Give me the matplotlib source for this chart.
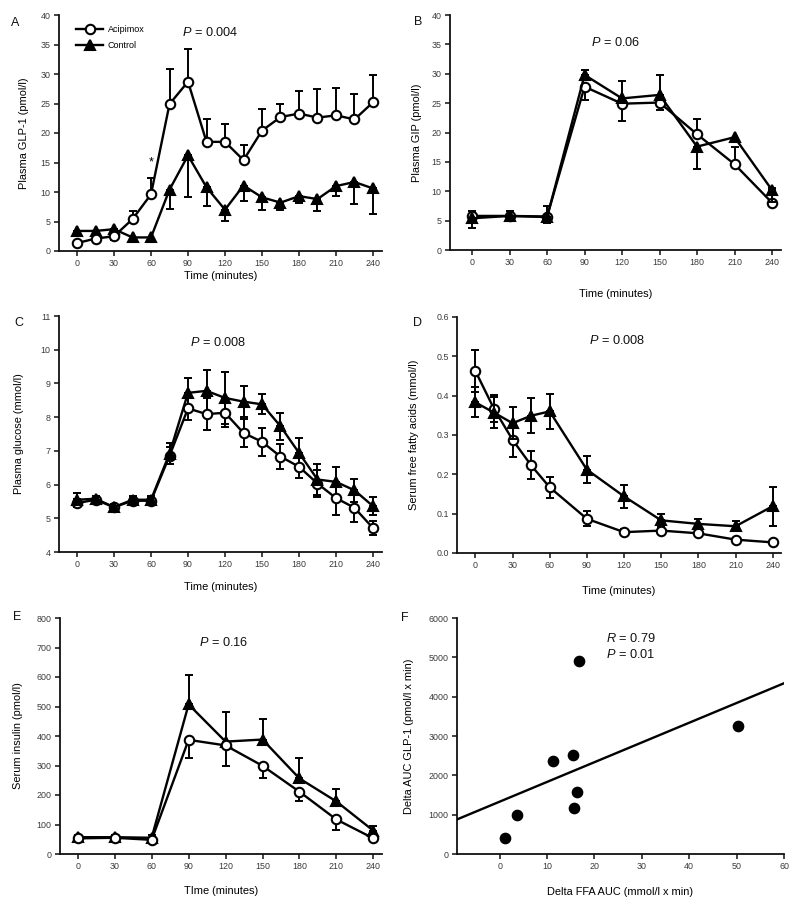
import numpy as np
import matplotlib
matplotlib.use("Agg")
import matplotlib.pyplot as plt
from matplotlib.ticker import FormatStrFormatter

plt.rcParams['font.family'] = ['Liberation Sans', 'DejaVu Sans']
plt.rcParams['mathtext.fontset'] = 'custom'
plt.rcParams['mathtext.rm'] = 'Liberation Sans'
plt.rcParams['mathtext.it'] = 'Liberation Sans:italic'

# ---------------- data ----------------
t15 = [0, 15, 30, 45, 60, 75, 90, 105, 120, 135, 150, 165, 180, 195, 210, 225, 240]
t30 = [0, 30, 60, 90, 120, 150, 180, 210, 240]
t_ffa = [0, 15, 30, 45, 60, 90, 120, 150, 180, 210, 240]
time_ticks = [0, 30, 60, 90, 120, 150, 180, 210, 240]

# A: GLP-1 (pmol/l)
glp_acip = [1.35, 2.1, 2.5, 5.4, 9.6, 24.9, 28.7, 18.5, 18.5, 15.4, 20.4, 22.7, 23.3, 22.6, 23.0, 22.3, 25.2]
glp_acip_lo = [0.3, 0.4, 0.6, 0, 0, 0, 0, 0, 0, 0, 0, 0, 0, 0, 0, 0, 0]
glp_acip_hi = [0.3, 0.4, 0.6, 1.4, 2.7, 5.9, 5.5, 3.9, 3.1, 2.6, 3.6, 2.2, 3.9, 4.8, 4.6, 4.3, 4.7]
glp_ctrl = [3.4, 3.4, 3.7, 2.3, 2.3, 10.4, 16.2, 10.8, 7.0, 11.1, 9.1, 8.2, 9.3, 8.8, 11.0, 11.7, 10.6]
glp_ctrl_lo = [0.3, 0.3, 0.4, 0, 0, 3.3, 7.1, 3.2, 1.9, 2.6, 2.2, 1.3, 1.2, 2.0, 1.7, 3.7, 4.4]
glp_ctrl_hi = [0, 0, 0, 0, 0, 0, 0, 0, 0, 0, 0, 0, 0, 0, 0, 0, 0]

# B: GIP (pmol/l)
gip_acip = [5.8, 5.8, 5.7, 27.8, 24.9, 25.1, 19.7, 14.6, 8.05]
gip_acip_lo = [0.9, 0.8, 1.05, 2.2, 2.9, 1.3, 0, 0, 0.5]
gip_acip_hi = [0.9, 0.8, 0, 0, 0, 0, 2.6, 3.0, 0.5]
gip_ctrl = [5.4, 5.8, 5.6, 29.8, 25.8, 26.4, 17.6, 19.2, 10.2]
gip_ctrl_lo = [1.7, 0.9, 0, 0, 0, 0, 3.8, 0, 2.1]
gip_ctrl_hi = [0, 0.9, 1.9, 0.8, 3.0, 3.4, 0, 0, 0.4]

# C: glucose (mmol/l)
glu_acip = [5.45, 5.55, 5.33, 5.52, 5.52, 6.85, 8.26, 8.09, 8.13, 7.53, 7.27, 6.83, 6.53, 6.03, 5.60, 5.31, 4.71]
glu_acip_err = [0.12, 0.08, 0.10, 0.10, 0.12, 0.25, 0.33, 0.48, 0.42, 0.41, 0.42, 0.38, 0.34, 0.40, 0.49, 0.41, 0.21]
glu_ctrl = [5.55, 5.58, 5.33, 5.55, 5.55, 6.92, 8.72, 8.78, 8.57, 8.46, 8.38, 7.73, 6.94, 6.15, 6.08, 5.83, 5.36]
glu_ctrl_err = [0.20, 0.08, 0.10, 0.10, 0.10, 0.30, 0.43, 0.62, 0.78, 0.46, 0.30, 0.40, 0.43, 0.45, 0.44, 0.35, 0.26]

# D: FFA (mmol/l)
ffa_acip = [0.463, 0.367, 0.288, 0.223, 0.167, 0.087, 0.053, 0.057, 0.050, 0.034, 0.027]
ffa_acip_err = [0.053, 0.035, 0.043, 0.036, 0.027, 0.019, 0.007, 0.006, 0.005, 0.005, 0.004]
ffa_ctrl = [0.383, 0.357, 0.330, 0.349, 0.360, 0.212, 0.144, 0.083, 0.074, 0.068, 0.119]
ffa_ctrl_err = [0.038, 0.040, 0.040, 0.045, 0.044, 0.034, 0.029, 0.015, 0.013, 0.013, 0.050]

# E: insulin (pmol/l)
ins_acip = [53, 55, 48, 387, 368, 299, 211, 117, 53]
ins_acip_lo = [6, 6, 5, 60, 69, 42, 31, 34, 5]
ins_ctrl = [57, 57, 55, 507, 381, 388, 256, 178, 79]
ins_ctrl_hi = [8, 8, 8, 100, 100, 71, 68, 44, 17]

# F: correlation
dffa_auc = [1.2, 3.65, 11.2, 15.5, 15.6, 16.4, 16.7, 50.3]
dglp_auc = [408, 996, 2357, 2528, 1174, 1566, 4911, 3255]

# ---------------- figure ----------------
W, H = 800, 909
fig = plt.figure(figsize=(8.0, 9.09), dpi=100)


def rect(l, r, t, b):
    return [l / W, 1 - b / H, (r - l) / W, (b - t) / H]


def fp(x, y):
    return x / W, 1 - y / H


TICK_FS = 6.4
LABEL_FS = 7.9
TICK_C = '#3a3a3a'
LW = 1.7
MS = 6.8


def style(ax):
    for s in ['top', 'right']:
        ax.spines[s].set_visible(False)
    for s in ['left', 'bottom']:
        ax.spines[s].set_linewidth(1.3)
        ax.spines[s].set_color('#111111')
    ax.tick_params(direction='out', length=3.5, width=1.1, labelsize=TICK_FS,
                   labelcolor=TICK_C, pad=2.5, color='#111111')


def series(ax, t, mean, lo, hi, marker, face, ebz, lz):
    t = np.asarray(t, float); m = np.asarray(mean, float)
    lo = np.asarray(lo, float); hi = np.asarray(hi, float)
    sel = lo > 0
    if sel.any():
        ax.errorbar(t[sel], m[sel], yerr=[lo[sel], np.zeros(sel.sum())], fmt='none',
                    ecolor='black', elinewidth=1.4, capsize=3, capthick=1.4, zorder=ebz)
    sel = hi > 0
    if sel.any():
        ax.errorbar(t[sel], m[sel], yerr=[np.zeros(sel.sum()), hi[sel]], fmt='none',
                    ecolor='black', elinewidth=1.4, capsize=3, capthick=1.4, zorder=ebz)
    ln, = ax.plot(t, m, color='black', lw=LW, marker=marker, ms=MS, mfc=face,
                  mec='black', mew=1.5, zorder=lz)
    return ln


def time_panel(ax, xl):
    ax.set_xlim(xl)
    ax.set_xticks(time_ticks)
    style(ax)


# A
axA = fig.add_axes(rect(59, 382, 15, 251))
lc = series(axA, t15, glp_ctrl, glp_ctrl_lo, glp_ctrl_hi, '^', 'black', 2, 3)
la = series(axA, t15, glp_acip, glp_acip_lo, glp_acip_hi, 'o', 'white', 4, 5)
time_panel(axA, (-14.6, 247.3))
axA.set_ylim(0, 40)
axA.set_yticks(np.arange(0, 41, 5))
axA.set_ylabel('Plasma GLP-1 (pmol/l)', fontsize=LABEL_FS)
axA.yaxis.set_label_coords(-0.094, 0.5)
axA.set_xlabel('Time (minutes)', fontsize=LABEL_FS)
axA.xaxis.set_label_coords(0.5, -0.085)
axA.text(60, 14.0, '*', ha='center', va='bottom', fontsize=9)
axA.legend([la, lc], ['Acipimox', 'Control'], loc='upper left',
           bbox_to_anchor=((76 - 59) / 323, (251 - 25) / 236), frameon=False,
           fontsize=6.5, handlelength=3.0, numpoints=1, borderpad=0,
           borderaxespad=0, labelspacing=0.75, handletextpad=0.5)

# B
axB = fig.add_axes(rect(450, 781, 15, 250))
series(axB, t30, gip_acip, gip_acip_lo, gip_acip_hi, 'o', 'white', 2, 3)
series(axB, t30, gip_ctrl, gip_ctrl_lo, gip_ctrl_hi, '^', 'black', 6, 5)
time_panel(axB, (-17.7, 247.2))
axB.set_ylim(0, 40)
axB.set_yticks(np.arange(0, 41, 5))
axB.set_ylabel('Plasma GIP (pmol/l)', fontsize=LABEL_FS)
axB.yaxis.set_label_coords(-0.086, 0.5)
axB.set_xlabel('Time (minutes)', fontsize=LABEL_FS)
axB.xaxis.set_label_coords(0.5, -39 / 235)

# C
axC = fig.add_axes(rect(59, 382, 316, 552))
series(axC, t15, glu_acip, glu_acip_err, glu_acip_err, 'o', 'white', 2, 3)
series(axC, t15, glu_ctrl, glu_ctrl_err, glu_ctrl_err, '^', 'black', 2.5, 4)
time_panel(axC, (-14.6, 247.3))
axC.set_ylim(4, 11)
axC.set_yticks(np.arange(4, 12, 1))
axC.set_ylabel('Plasma glucose (mmol/l)', fontsize=LABEL_FS)
axC.yaxis.set_label_coords(-0.107, 0.5)
axC.set_xlabel('Time (minutes)', fontsize=LABEL_FS)
axC.xaxis.set_label_coords(0.5, -30 / 236)

# D
axD = fig.add_axes(rect(457, 781, 317, 553))
series(axD, t_ffa, ffa_acip, ffa_acip_err, ffa_acip_err, 'o', 'white', 2, 3)
series(axD, t_ffa, ffa_ctrl, ffa_ctrl_err, ffa_ctrl_err, '^', 'black', 6, 4)
time_panel(axD, (-14.8, 246.7))
axD.set_ylim(0, 0.6)
axD.set_yticks(np.arange(0, 0.61, 0.1))
axD.yaxis.set_major_formatter(FormatStrFormatter('%.1f'))
axD.set_ylabel('Serum free fatty acids (mmol/l)', fontsize=LABEL_FS)
axD.yaxis.set_label_coords(-0.116, 0.5)
axD.set_xlabel('Time (minutes)', fontsize=LABEL_FS)
axD.xaxis.set_label_coords(0.5, -33 / 236)

# E
axE = fig.add_axes(rect(60, 382, 618, 854))
series(axE, t30, ins_acip, ins_acip_lo, np.zeros(len(t30)), 'o', 'white', 2, 5)
series(axE, t30, ins_ctrl, np.zeros(len(t30)), ins_ctrl_hi, '^', 'black', 2, 4)
time_panel(axE, (-14.4, 247))
axE.set_ylim(0, 800)
axE.set_yticks(np.arange(0, 801, 100))
axE.set_ylabel('Serum insulin (pmol/l)', fontsize=LABEL_FS)
axE.yaxis.set_label_coords(-0.116, 0.5)
axE.set_xlabel('TIme (minutes)', fontsize=LABEL_FS)
axE.xaxis.set_label_coords(0.5, -32 / 236)

# F
axF = fig.add_axes(rect(457, 784, 618, 854))
axF.plot(dffa_auc, dglp_auc, 'o', color='black', ms=7.4, zorder=4)
slope, icpt = np.polyfit(dffa_auc, dglp_auc, 1)
xl = np.array([-9.0, 60.0])
axF.plot(xl, slope * xl + icpt, color='black', lw=LW, zorder=3)
style(axF)
axF.set_xlim(-9, 60)
axF.set_ylim(0, 6000)
axF.set_xticks(np.arange(0, 61, 10))
axF.set_yticks(np.arange(0, 6001, 1000))
axF.set_ylabel('Delta AUC GLP-1 (pmol/l x min)', fontsize=LABEL_FS)
axF.yaxis.set_label_coords(-0.133, 0.5)
axF.set_xlabel('Delta FFA AUC (mmol/l x min)', fontsize=LABEL_FS)
axF.xaxis.set_label_coords(0.5, -33 / 236)

# panel letters
for letter, (x, y) in zip('ABCDEF', [(15, 23), (418, 22), (19, 323), (418, 323), (17, 617), (405, 618)]):
    fig.text(*fp(x, y), letter, fontsize=9, ha='center', va='center', color='#111111')

# statistics text
PFS = 9.2
for txt, (x, y) in [('$P$ = 0.004', (210, 32)), ('$P$ = 0.06', (616, 42)),
                    ('$P$ = 0.008', (218, 342)), ('$P$ = 0.008', (617, 340)),
                    ('$P$ = 0.16', (224, 642))]:
    fig.text(*fp(x, y), txt, fontsize=PFS, ha='center', va='center', color='#111111')
fig.text(*fp(606, 638), '$R$ = 0.79', fontsize=PFS, ha='left', va='center', color='#111111')
fig.text(*fp(606, 654), '$P$ = 0.01', fontsize=PFS, ha='left', va='center', color='#111111')

fig.savefig('out.png', dpi=100)
